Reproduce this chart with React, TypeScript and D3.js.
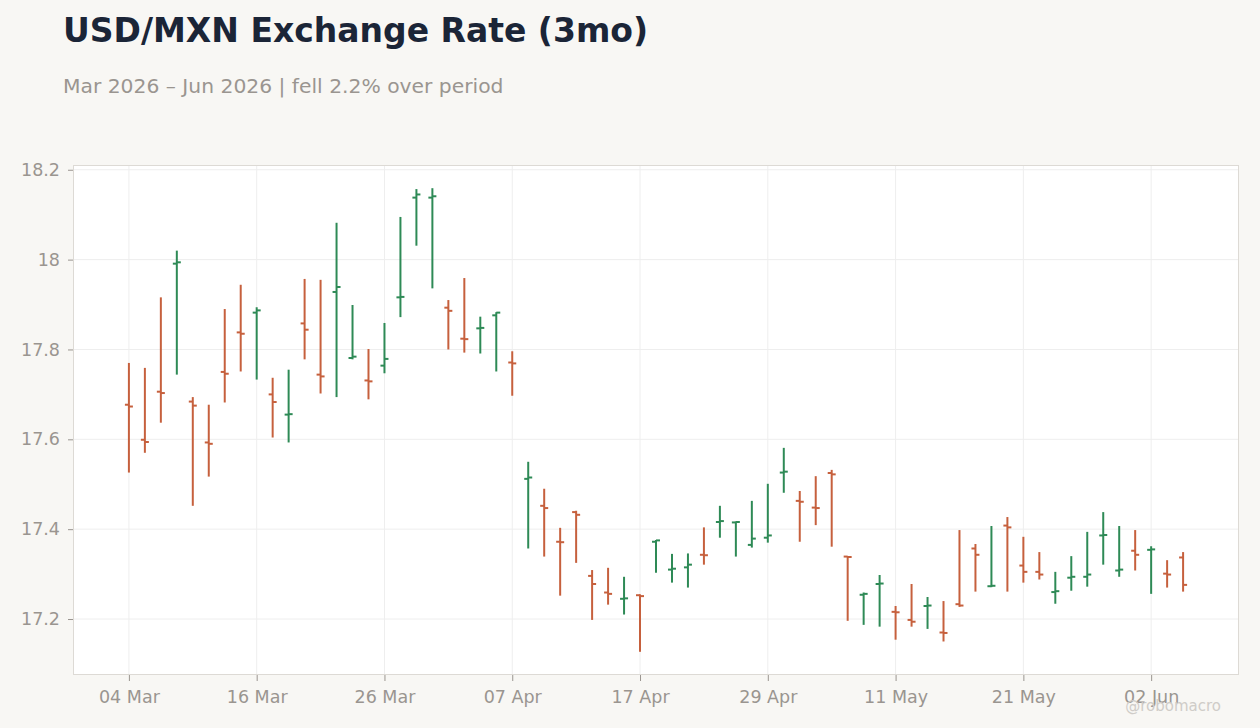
import React, { useEffect, useRef } from 'react';
import * as d3 from 'd3';

// business days, Mar 4 – Jun 4 2026
const dates = [
  '2026-03-04', '2026-03-05', '2026-03-06', '2026-03-09', '2026-03-10', '2026-03-11', '2026-03-12', '2026-03-13',
  '2026-03-16', '2026-03-17', '2026-03-18', '2026-03-19', '2026-03-20', '2026-03-23', '2026-03-24', '2026-03-25',
  '2026-03-26', '2026-03-27', '2026-03-30', '2026-03-31', '2026-04-01', '2026-04-02', '2026-04-03', '2026-04-06',
  '2026-04-07', '2026-04-08', '2026-04-09', '2026-04-10', '2026-04-13', '2026-04-14', '2026-04-15', '2026-04-16',
  '2026-04-17', '2026-04-20', '2026-04-21', '2026-04-22', '2026-04-23', '2026-04-24', '2026-04-27', '2026-04-28',
  '2026-04-29', '2026-04-30', '2026-05-01', '2026-05-04', '2026-05-05', '2026-05-06', '2026-05-07', '2026-05-08',
  '2026-05-11', '2026-05-12', '2026-05-13', '2026-05-14', '2026-05-15', '2026-05-18', '2026-05-19', '2026-05-20',
  '2026-05-21', '2026-05-22', '2026-05-25', '2026-05-26', '2026-05-27', '2026-05-28', '2026-05-29', '2026-06-01',
  '2026-06-02', '2026-06-03', '2026-06-04',
];

const opens = [
  17.677, 17.599, 17.706, 17.991, 17.684, 17.593, 17.750, 17.838, 17.882, 17.700, 17.655, 17.858,
  17.744, 17.928, 17.781, 17.731, 17.764, 17.916, 18.138, 18.138, 17.893, 17.824, 17.847, 17.876,
  17.771, 17.512, 17.452, 17.372, 17.438, 17.296, 17.259, 17.245, 17.253, 17.372, 17.310, 17.315,
  17.343, 17.416, 17.415, 17.365, 17.381, 17.526, 17.463, 17.448, 17.525, 17.339, 17.254, 17.278,
  17.216, 17.198, 17.229, 17.170, 17.233, 17.357, 17.273, 17.408, 17.319, 17.305, 17.260, 17.292,
  17.294, 17.386, 17.308, 17.352, 17.354, 17.301, 17.337,
];
const highs = [
  17.770, 17.759, 17.916, 18.020, 17.694, 17.677, 17.890, 17.944, 17.894, 17.737, 17.755, 17.957,
  17.955, 18.082, 17.899, 17.801, 17.859, 18.095, 18.157, 18.159, 17.910, 17.959, 17.873, 17.883,
  17.796, 17.550, 17.490, 17.403, 17.441, 17.309, 17.314, 17.294, 17.255, 17.376, 17.345, 17.346,
  17.404, 17.452, 17.417, 17.463, 17.501, 17.581, 17.485, 17.518, 17.532, 17.340, 17.259, 17.298,
  17.229, 17.278, 17.249, 17.240, 17.398, 17.367, 17.407, 17.427, 17.383, 17.349, 17.305, 17.340,
  17.394, 17.438, 17.407, 17.398, 17.362, 17.331, 17.349,
];
const lows = [
  17.526, 17.570, 17.637, 17.744, 17.452, 17.517, 17.682, 17.751, 17.733, 17.604, 17.593, 17.778,
  17.702, 17.694, 17.778, 17.689, 17.747, 17.872, 18.031, 17.936, 17.800, 17.793, 17.791, 17.751,
  17.697, 17.357, 17.339, 17.252, 17.325, 17.198, 17.232, 17.210, 17.127, 17.303, 17.281, 17.270,
  17.321, 17.381, 17.339, 17.359, 17.370, 17.481, 17.372, 17.409, 17.361, 17.196, 17.187, 17.183,
  17.154, 17.183, 17.178, 17.150, 17.227, 17.261, 17.271, 17.261, 17.281, 17.288, 17.234, 17.263,
  17.272, 17.321, 17.294, 17.308, 17.256, 17.270, 17.261,
];
const closes = [
  17.673, 17.594, 17.703, 17.994, 17.675, 17.590, 17.746, 17.835, 17.887, 17.683, 17.656, 17.844,
  17.740, 17.939, 17.784, 17.729, 17.779, 17.917, 18.145, 18.141, 17.886, 17.823, 17.848, 17.882,
  17.769, 17.515, 17.447, 17.371, 17.432, 17.278, 17.256, 17.246, 17.251, 17.375, 17.312, 17.321,
  17.342, 17.418, 17.416, 17.379, 17.386, 17.528, 17.461, 17.447, 17.522, 17.338, 17.256, 17.279,
  17.215, 17.194, 17.230, 17.169, 17.230, 17.343, 17.274, 17.404, 17.305, 17.299, 17.262, 17.294,
  17.299, 17.387, 17.310, 17.343, 17.355, 17.299, 17.276,
];

const yTicks = [17.2, 17.4, 17.6, 17.8, 18, 18.2];
const xTickEvery = 8;

const UP = '#2e8a56';
const DOWN = '#c6603d';

const App: React.FC = () => {
  const svgRef = useRef<SVGSVGElement>(null);
  const width = 1260;
  const height = 728;

  useEffect(() => {
    document.body.style.margin = '0';
    document.body.style.background = '#f8f7f4';
    if (!svgRef.current) return;
    const svg = d3.select(svgRef.current);
    svg.selectAll('*').remove();

    const font = 'DejaVu Sans, sans-serif';
    const margin = { top: 165, right: 21, bottom: 53, left: 73 };
    const parse = d3.timeParse('%Y-%m-%d');
    const fmt = d3.timeFormat('%d %b');

    const bars = dates.map((d, i) => ({
      date: d, o: opens[i], h: highs[i], l: lows[i], c: closes[i],
    }));

    const x = d3.scalePoint<string>()
      .domain(dates)
      .range([margin.left, width - margin.right])
      .padding(3.5);

    const lo = d3.min(lows)!;
    const hi = d3.max(highs)!;
    const pad = (hi - lo) * 0.05;
    const y = d3.scaleLinear()
      .domain([lo - pad, hi + pad])
      .range([height - margin.bottom, margin.top]);

    svg.append('rect').attr('width', width).attr('height', height).attr('fill', '#f8f7f4');

    // plot area
    svg.append('rect')
      .attr('x', margin.left).attr('y', margin.top)
      .attr('width', width - margin.left - margin.right)
      .attr('height', height - margin.top - margin.bottom)
      .attr('fill', '#ffffff');

    const xTickDates = dates.filter((_, i) => i % xTickEvery === 0);

    // grid
    svg.append('g').selectAll('line').data(yTicks).join('line')
      .attr('x1', margin.left).attr('x2', width - margin.right)
      .attr('y1', d => y(d)).attr('y2', d => y(d))
      .attr('stroke', '#eeeeee').attr('stroke-width', 1);
    svg.append('g').selectAll('line').data(xTickDates).join('line')
      .attr('x1', d => x(d)!).attr('x2', d => x(d)!)
      .attr('y1', margin.top).attr('y2', height - margin.bottom)
      .attr('stroke', '#eeeeee').attr('stroke-width', 1);

    svg.append('rect')
      .attr('x', margin.left + 0.5).attr('y', margin.top + 0.5)
      .attr('width', width - margin.left - margin.right - 1)
      .attr('height', height - margin.top - margin.bottom - 1)
      .attr('fill', 'none').attr('stroke', '#dddad5');

    // axes
    const yAxis = d3.axisLeft(y).tickValues(yTicks).tickSize(5).tickPadding(8)
      .tickFormat(d => String(+(+d).toFixed(2)));
    const gy = svg.append('g').attr('transform', `translate(${margin.left},0)`).call(yAxis);
    gy.select('.domain').remove();
    gy.selectAll('line').attr('stroke', '#9a9590');
    gy.selectAll('text').attr('fill', '#9a9590').attr('font-size', 17.5).attr('font-family', font);

    const xAxis = d3.axisBottom(x).tickValues(xTickDates).tickSize(6).tickPadding(10)
      .tickFormat(d => fmt(parse(d)!));
    const gx = svg.append('g').attr('transform', `translate(0,${height - margin.bottom})`).call(xAxis);
    gx.select('.domain').remove();
    gx.selectAll('line').attr('stroke', '#9a9590');
    gx.selectAll('text').attr('fill', '#9a9590').attr('font-size', 17.5).attr('font-family', font);

    // OHLC bars
    const tick = 4;
    const g = svg.append('g');
    const bar = g.selectAll('g').data(bars).join('g')
      .attr('stroke', d => (d.c >= d.o ? UP : DOWN))
      .attr('stroke-width', 2);
    bar.append('line')
      .attr('x1', d => x(d.date)!).attr('x2', d => x(d.date)!)
      .attr('y1', d => y(d.h)).attr('y2', d => y(d.l));
    bar.append('line')
      .attr('x1', d => x(d.date)! - tick).attr('x2', d => x(d.date)!)
      .attr('y1', d => y(d.o)).attr('y2', d => y(d.o));
    bar.append('line')
      .attr('x1', d => x(d.date)!).attr('x2', d => x(d.date)! + tick)
      .attr('y1', d => y(d.c)).attr('y2', d => y(d.c));

    // titles
    svg.append('text')
      .attr('x', 63).attr('y', 42)
      .attr('font-family', font).attr('font-weight', 'bold').attr('font-size', 33)
      .attr('fill', '#1b2537')
      .text('USD/MXN Exchange Rate (3mo)');
    svg.append('text')
      .attr('x', 63).attr('y', 93)
      .attr('font-family', font).attr('font-size', 20.3)
      .attr('fill', '#9a9590')
      .text('Mar 2026 – Jun 2026 | fell 2.2% over period');

    svg.append('text')
      .attr('x', 1221).attr('y', 711)
      .attr('text-anchor', 'end')
      .attr('font-family', font).attr('font-size', 15)
      .attr('fill', '#cfccc8')
      .text('@robomacro');
  }, []);

  return <svg ref={svgRef} width={width} height={height} style={{ display: 'block' }} />;
};

export default App;
